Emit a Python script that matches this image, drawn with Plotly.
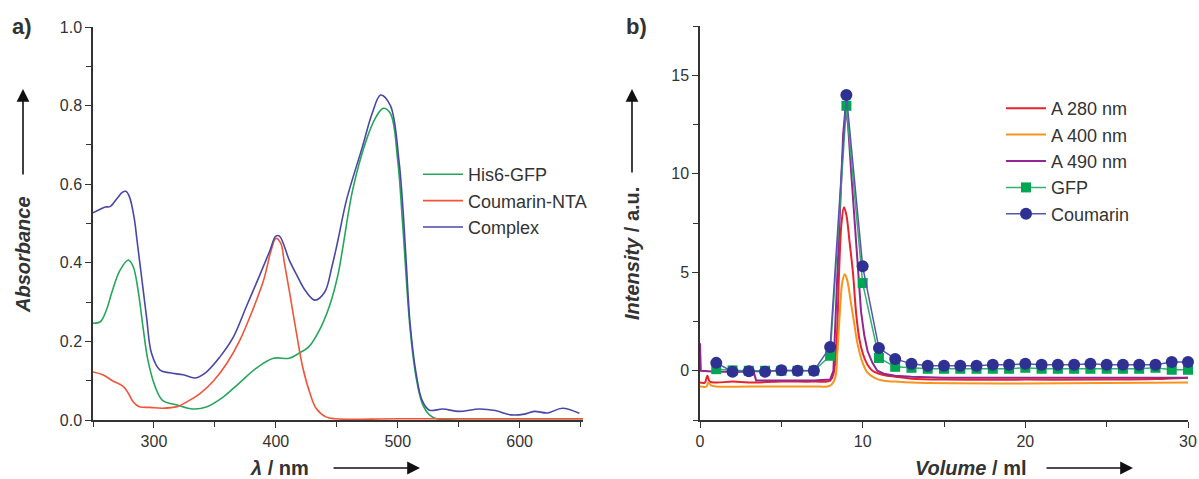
import plotly.graph_objects as go

# ---------------- panel a: absorption spectra ----------------
wl_complex = [250, 255, 260, 264, 270, 274, 277, 280, 284, 286, 290, 294, 298, 305, 313, 324, 334,
              343, 354, 365, 376, 387, 395, 400, 403, 411, 417, 424, 432, 440, 446, 451, 458, 471,
              479, 486, 494, 501, 504, 507, 510, 515, 520, 526, 537, 550, 567, 580, 593, 604, 612,
              623, 635, 649]
abs_complex = [0.527, 0.535, 0.542, 0.543, 0.565, 0.579, 0.582, 0.567, 0.51, 0.46, 0.36, 0.26, 0.17,
               0.127, 0.12, 0.115, 0.107, 0.122, 0.16, 0.21, 0.29, 0.37, 0.43, 0.468, 0.468, 0.407,
               0.37, 0.33, 0.305, 0.325, 0.39, 0.458, 0.56, 0.695, 0.78, 0.827, 0.80, 0.66, 0.55,
               0.40, 0.25, 0.12, 0.05, 0.025, 0.028, 0.022, 0.028, 0.024, 0.013, 0.015, 0.022,
               0.018, 0.03, 0.017]

wl_gfp = [250, 256, 261, 266, 272, 279, 283, 287, 291, 295, 301, 307, 319, 332, 343, 357, 370,
          384, 398, 411, 419, 427, 436, 444, 451, 455, 463, 474, 482, 488, 494, 500, 504, 510,
          515, 520, 526, 532, 550, 600, 652]
abs_gfp = [0.246, 0.25, 0.28, 0.33, 0.38, 0.407, 0.39, 0.33, 0.237, 0.153, 0.085, 0.05, 0.038,
           0.028, 0.033, 0.059, 0.094, 0.132, 0.157, 0.157, 0.17, 0.186, 0.23, 0.29, 0.37, 0.44,
           0.585, 0.71, 0.77, 0.793, 0.78, 0.66, 0.50, 0.237, 0.11, 0.043, 0.013, 0.003, 0.003,
           0.003, 0.003]

wl_coum = [250, 258, 266, 275, 279, 283, 288, 297, 307, 319, 327, 338, 349, 360, 370, 381, 390,
           396, 400, 404, 407, 411, 417, 422, 428, 433, 441, 449, 500, 600, 652]
abs_coum = [0.122, 0.115, 0.10, 0.085, 0.068, 0.046, 0.034, 0.032, 0.03, 0.034, 0.046, 0.068,
            0.10, 0.145, 0.20, 0.28, 0.356, 0.43, 0.462, 0.45, 0.40, 0.33, 0.22, 0.135, 0.068,
            0.03, 0.008, 0.003, 0.003, 0.003, 0.003]

# ---------------- panel b: size-exclusion chromatogram ----------------
vol_a280 = [0, 0.3, 0.45, 0.6, 1, 2, 3, 5, 7, 8.0, 8.2, 8.4, 8.55, 8.7, 8.85, 9.0, 9.2, 9.4, 9.6,
            9.8, 10.0, 10.3, 10.6, 11, 11.5, 12, 13, 15, 20, 25, 28, 30]
int_a280 = [-0.6, -0.6, -0.25, -0.55, -0.6, -0.55, -0.6, -0.55, -0.55, -0.5, -0.2, 1.5, 5.0, 7.5,
            8.3, 7.9, 6.5, 5.0, 2.9, 1.6, 0.9, 0.3, 0.0, -0.15, -0.25, -0.3, -0.4, -0.45, -0.45,
            -0.45, -0.42, -0.35]

vol_a400 = [0, 0.4, 0.5, 0.7, 1, 3, 5, 7, 8.0, 8.3, 8.45, 8.6, 8.75, 8.9, 9.05, 9.25, 9.5, 9.7,
            10.0, 10.3, 10.7, 11.2, 12, 13, 20, 30]
int_a400 = [-0.8, -0.8, -0.6, -0.75, -0.8, -0.8, -0.8, -0.8, -0.75, -0.4, 1.0, 3.0, 4.5, 4.9, 4.6,
            3.6, 2.3, 1.3, 0.4, -0.1, -0.35, -0.5, -0.55, -0.6, -0.65, -0.6]

vol_a490 = [0, 0.05, 1, 2, 3.3, 3.45, 5, 7, 8.0, 8.2, 8.45, 8.6, 8.8, 8.95, 9.1, 9.3, 9.5, 9.7,
            9.9, 10.1, 10.3, 10.6, 10.9, 11.3, 12, 13, 15, 20, 25, 30]
int_a490 = [1.4, 0.0, -0.05, -0.05, -0.05, -0.5, -0.5, -0.5, -0.45, 0.0, 5.0, 8.0, 12.0, 13.4,
            12.5, 10.0, 7.5, 5.0, 3.0, 1.8, 1.0, 0.4, 0.0, -0.15, -0.25, -0.3, -0.35, -0.35,
            -0.35, -0.35]

fractions = list(range(1, 31))
gfp_fl = [0.08, 0.02, 0.0, 0.0, 0.0, 0.0, 0.0, 0.76, 13.45, 4.45, 0.65, 0.2, 0.15, 0.1, 0.1,
          0.1, 0.1, 0.1, 0.1, 0.15, 0.1, 0.1, 0.1, 0.1, 0.1, 0.1, 0.1, 0.15, 0.05, 0.05]
coum_fl = [0.4, -0.05, -0.03, -0.05, 0.02, 0.0, 0.0, 1.2, 14.0, 5.3, 1.15, 0.6, 0.35, 0.25,
           0.25, 0.25, 0.25, 0.3, 0.3, 0.35, 0.3, 0.3, 0.3, 0.35, 0.3, 0.3, 0.3, 0.3, 0.45, 0.45]

FONT = "Liberation Sans, Arial, Helvetica, sans-serif"
INK = "#333333"
W, H = 1199, 479


def px(x):
    return x / W


def py(y):
    return 1 - y / H


fig = go.Figure()

# panel a traces
fig.add_trace(go.Scatter(x=wl_gfp, y=abs_gfp, name="His6-GFP", mode="lines", line_shape="spline",
                         line=dict(color="#26a65b", width=1.6), xaxis="x", yaxis="y", legend="legend"))
fig.add_trace(go.Scatter(x=wl_coum, y=abs_coum, name="Coumarin-NTA", mode="lines", line_shape="spline",
                         line=dict(color="#f0553a", width=1.6), xaxis="x", yaxis="y", legend="legend"))
fig.add_trace(go.Scatter(x=wl_complex, y=abs_complex, name="Complex", mode="lines", line_shape="spline",
                         line=dict(color="#4848a6", width=1.6), xaxis="x", yaxis="y", legend="legend"))

# panel b traces
fig.add_trace(go.Scatter(x=vol_a280, y=int_a280, name="A 280 nm", mode="lines", line_shape="spline",
                         line=dict(color="#e8232b", width=2), xaxis="x2", yaxis="y2", legend="legend2"))
fig.add_trace(go.Scatter(x=vol_a400, y=int_a400, name="A 400 nm", mode="lines", line_shape="spline",
                         line=dict(color="#f7941d", width=2), xaxis="x2", yaxis="y2", legend="legend2"))
fig.add_trace(go.Scatter(x=vol_a490, y=int_a490, name="A 490 nm", mode="lines",
                         line=dict(color="#93278f", width=2), xaxis="x2", yaxis="y2", legend="legend2"))
fig.add_trace(go.Scatter(x=fractions, y=gfp_fl, name="GFP", mode="lines+markers",
                         line=dict(color="#33b06e", width=1.5),
                         marker=dict(symbol="square", size=10, color="#00a651"),
                         cliponaxis=False, xaxis="x2", yaxis="y2", legend="legend2"))
fig.add_trace(go.Scatter(x=fractions, y=coum_fl, name="Coumarin", mode="lines+markers",
                         line=dict(color="#5656ae", width=1.5),
                         marker=dict(symbol="circle", size=12, color="#2e3192"),
                         cliponaxis=False, xaxis="x2", yaxis="y2", legend="legend2"))

axis_common = dict(showline=True, linecolor=INK, linewidth=1.5, showgrid=False, zeroline=False,
                   automargin=False,
                   ticks="outside", ticklen=6, tickwidth=1.3, tickcolor=INK,
                   tickfont=dict(family=FONT, size=16, color=INK), fixedrange=True)

fig.update_layout(
    width=W, height=H,
    margin=dict(l=0, r=0, t=0, b=0),
    paper_bgcolor="white", plot_bgcolor="white",
    font=dict(family=FONT, color=INK),
    xaxis=dict(axis_common, domain=[px(93), px(583)], range=[250, 652], tick0=0, dtick=100,
               minor=dict(ticks="outside", ticklen=5, tickwidth=1.3, tickcolor=INK, dtick=50, tick0=0),
               anchor="y"),
    yaxis=dict(axis_common, domain=[py(420), py(27)], range=[0, 1.0], dtick=0.2, tick0=0,
               tickformat=".1f",
               minor=dict(ticks="outside", ticklen=5, tickwidth=1.3, tickcolor=INK, dtick=0.1, tick0=0),
               anchor="x"),
    xaxis2=dict(axis_common, domain=[px(700), px(1188)], range=[0, 30], tick0=0, dtick=10,
                minor=dict(ticks="outside", ticklen=5, tickwidth=1.3, tickcolor=INK, dtick=5, tick0=0),
                anchor="y2"),
    yaxis2=dict(axis_common, domain=[py(420), py(26)], range=[-2.5, 17.5], tick0=0, dtick=5,
                minor=dict(ticks="outside", ticklen=5, tickwidth=1.3, tickcolor=INK, dtick=2.5, tick0=0),
                anchor="x2"),
    legend=dict(x=px(418), y=py(156), xanchor="left", yanchor="top", bgcolor="rgba(0,0,0,0)",
                font=dict(family=FONT, size=18, color=INK), tracegroupgap=0, itemwidth=40),
    legend2=dict(x=px(1001), y=py(90), xanchor="left", yanchor="top", bgcolor="rgba(0,0,0,0)",
                 font=dict(family=FONT, size=18, color=INK), tracegroupgap=0, itemwidth=40),
    showlegend=True,
)

annotations = [
    dict(text="<b>a)</b>", x=px(10), y=py(27), xanchor="left", yanchor="middle",
         font=dict(size=22, color=INK)),
    dict(text="<b>b)</b>", x=px(624), y=py(27), xanchor="left", yanchor="middle",
         font=dict(size=22, color=INK)),
    dict(text="<b><i>Absorbance</i></b>", x=px(23), y=py(255), textangle=-90,
         xanchor="center", yanchor="middle", font=dict(size=20, color=INK)),
    dict(text="<b><i>λ</i> / nm</b>", x=px(279), y=py(468), xanchor="center", yanchor="middle",
         font=dict(size=20, color=INK)),
    dict(text="<b><i>Intensity</i> / a.u.</b>", x=px(632), y=py(254), textangle=-90,
         xanchor="center", yanchor="middle", font=dict(size=20, color=INK)),
    dict(text="<b><i>Volume</i> / ml</b>", x=px(971), y=py(468), xanchor="center", yanchor="middle",
         font=dict(size=20, color=INK)),
]
# direction arrows next to the axis titles
arrows = [
    (23, 89, 0, 87),      # panel a, up
    (420, 468, -88, 0),   # panel a, right
    (632, 89, 0, 85),     # panel b, up
    (1133, 468, -88, 0),  # panel b, right
]
for hx, hy, dx, dy in arrows:
    annotations.append(dict(text="", x=px(hx), y=py(hy), ax=dx, ay=dy, axref="pixel", ayref="pixel",
                            showarrow=True, arrowhead=2, arrowsize=1.6, arrowwidth=1.6,
                            arrowcolor="#111111"))
for a in annotations:
    a.setdefault("xref", "paper")
    a.setdefault("yref", "paper")
    if "showarrow" not in a:
        a["showarrow"] = False
fig.update_layout(annotations=annotations)

fig.write_html("out.html")
